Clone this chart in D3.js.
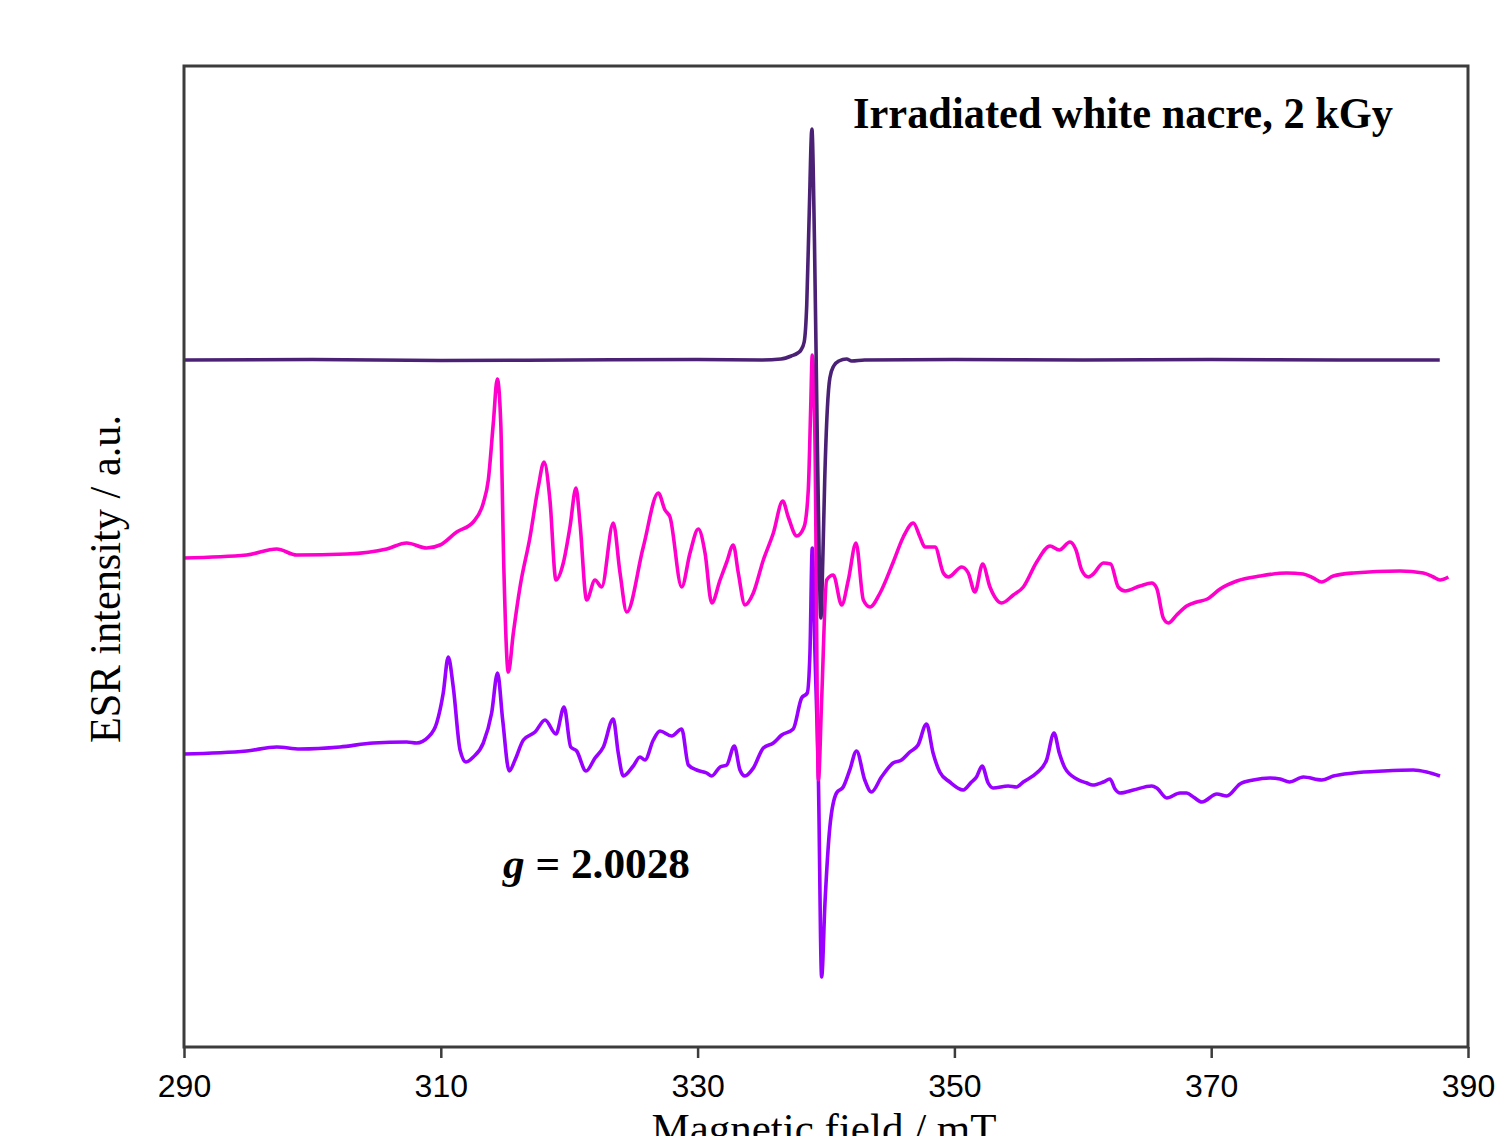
<!DOCTYPE html>
<html>
<head>
<meta charset="utf-8">
<script src="https://cdn.jsdelivr.net/npm/d3@7"></script>
<style>
  body { margin: 0; background: #fff; }
  svg { display: block; }
</style>
</head>
<body>
<svg id="chart" width="1503" height="1136"></svg>
<script>
// x ticks of the field axis (mT)
const X_TICKS = [290, 310, 330, 350, 370, 390];

// vertical offsets of the three stacked spectra (a.u.)
const OFFSET_TOP = 687;
const OFFSET_MID = 490;
const OFFSET_BOT = 294;

// top spectrum: [field mT, intensity a.u.]
const topSpectrum = [
  [290, 0], [300, 0.5], [310, -0.5], [320, 0], [330, 0.5], [335, 0],
  [336.5, 1], [337.3, 4], [337.8, 7], [338.05, 10], [338.3, 18], [338.5, 55],
  [338.7, 150], [338.9, 231], [339.1, 120], [339.3, -60], [339.5, -220],
  [339.6, -258], [339.75, -200], [339.9, -120], [340.1, -50], [340.3, -18],
  [340.6, -6], [341.0, -1], [341.6, 1], [342.0, -1], [343, 0], [350, 0.5],
  [360, 0], [370, 0.5], [380, 0], [387.8, 0]
];

// middle spectrum
const midSpectrum = [
  [290, -1], [294.88, 2], [297.22, 8], [298.78, 2], [302.67, 3], [305.79, 8],
  [307.34, 14], [308.9, 9], [309.94, 12], [311.24, 25], [312.53, 35],
  [313.31, 54], [313.7, 77], [314.09, 134], [314.4, 178], [314.67, 134],
  [314.92, -16], [315.26, -115], [315.65, -76], [316.17, -30], [316.95, 20],
  [317.59, 70], [318.04, 95], [318.5, 57], [318.97, -23], [319.54, -6],
  [320.06, 30], [320.53, 69], [320.84, 34], [321.36, -43], [322.01, -23],
  [322.53, -30], [323.43, 34], [323.96, -16], [324.48, -55], [325.77, 10],
  [326.94, 64], [327.46, 47], [327.85, 40], [328.76, -30], [329.41, 4],
  [330.06, 28], [330.58, 4], [331.1, -46], [331.75, -23], [332.27, -5],
  [332.78, 12], [333.17, -16], [333.69, -48], [334.34, -36], [335.12, -3],
  [335.9, 24], [336.63, 56], [337.06, 40], [337.72, 21], [338.29, 30],
  [338.62, 67], [338.81, 150], [338.93, 202], [339.14, 117], [339.41, -223],
  [339.66, -143], [340.05, -23], [340.57, -18], [341.22, -48], [341.74, -23],
  [342.34, 14], [342.91, -43], [343.43, -50], [344.21, -36], [345.24, -5],
  [346.02, 20], [346.8, 34], [347.32, 20], [347.71, 10], [348.49, 10],
  [349.14, -16], [349.53, -20], [350.57, -10], [351.08, -16], [351.6, -35],
  [352.2, -7], [352.77, -30], [353.68, -46], [354.59, -38], [355.37, -30],
  [356.41, -5], [357.45, 11], [358.17, 7], [359.0, 15], [359.47, 7],
  [359.91, -13], [360.43, -20], [360.82, -17], [361.6, -6], [362.17, -7],
  [362.76, -30], [363.29, -34], [364.45, -29], [365.36, -26], [365.75, -31],
  [366.27, -61], [366.66, -66], [367.31, -58], [368.09, -49], [368.87, -45],
  [369.7, -42], [370.69, -32], [371.99, -24], [373.8, -19], [375.88, -16],
  [377.17, -17], [377.95, -21], [378.6, -25], [379.51, -19], [381.07, -16],
  [384.7, -14], [386.52, -16], [387.3, -20], [387.82, -23], [388.47, -20]
];

// bottom spectrum
const botSpectrum = [
  [290, -1], [294.88, 2], [297.22, 6], [299.03, 4], [302.15, 6], [304.74, 10],
  [307.34, 11], [308.12, 10], [309.03, 16], [309.68, 30], [310.19, 60],
  [310.58, 96], [310.97, 66], [311.5, 3], [311.96, -9], [312.53, -4],
  [313.31, 10], [313.96, 40], [314.42, 80], [314.82, 33], [315.33, -18],
  [315.78, -7], [316.43, 13], [317.34, 21], [318.12, 33], [318.97, 19],
  [319.6, 46], [320.12, 6], [320.58, 2], [321.31, -18], [322.01, -5],
  [322.66, 6], [323.43, 34], [323.82, 0], [324.21, -23], [324.99, -13],
  [325.51, -4], [325.9, -7], [326.55, 13], [327.07, 22], [327.98, 17],
  [328.76, 24], [329.28, -12], [329.93, -17], [330.71, -20], [331.1, -23],
  [331.75, -14], [332.27, -12], [332.86, 7], [333.3, -17], [333.69, -23],
  [334.34, -15], [335.12, 5], [335.9, 10], [336.55, 18], [337.45, 24],
  [338.1, 55], [338.54, 60], [338.75, 100], [338.93, 205], [339.14, 100],
  [339.41, -27], [339.66, -224], [339.92, -150], [340.3, -74], [340.82, -40],
  [341.34, -34], [341.85, -17], [342.38, 2], [343.02, -27], [343.54, -39],
  [344.32, -24], [345.22, -10], [345.88, -7], [346.53, 1], [347.17, 8],
  [347.83, 29], [348.34, 0], [348.86, -19], [349.64, -29], [350.69, -37],
  [351.33, -29], [351.72, -24], [352.16, -13], [352.63, -30], [353.01, -35],
  [354.19, -33], [354.84, -34], [355.36, -29], [356.4, -20], [357.18, -7],
  [357.76, 20], [358.17, 0], [358.61, -15], [359.53, -26], [360.31, -30],
  [360.77, -32], [361.6, -29], [362.12, -26], [362.51, -36], [362.9, -40],
  [363.94, -37], [365.37, -33], [365.76, -35], [366.54, -45], [367.57, -40],
  [368.09, -40], [368.61, -44], [369.27, -49], [370.44, -41], [371.21, -43],
  [372.24, -31], [373.28, -27], [374.58, -25], [375.36, -26], [376.09, -29],
  [377.18, -24], [378.61, -27], [379.52, -23], [381.07, -20], [383.41, -18],
  [385.74, -17], [386.78, -19], [387.82, -23]
];

const svg = d3.select('#chart');

// plot box
const boxLeft = 184, boxRight = 1468, boxTop = 66, boxBottom = 1047;

const x = d3.scaleLinear().domain([290, 390]).range([boxLeft, boxRight]);
const y = d3.scaleLinear().domain([0, 981]).range([boxBottom, boxTop]);

// spectra, drawn bottom first so the dark one sits on top
const series = [
  { data: botSpectrum, offset: OFFSET_BOT, color: '#9900ff', width: 3.6 },
  { data: midSpectrum, offset: OFFSET_MID, color: '#ff00cc', width: 3.6 },
  { data: topSpectrum, offset: OFFSET_TOP, color: '#4b2175', width: 3.6 }
];

series.forEach(s => {
  const line = d3.line()
    .x(d => x(d[0]))
    .y(d => y(d[1] + s.offset))
    .curve(d3.curveMonotoneX);
  svg.append('path')
    .datum(s.data)
    .attr('d', line)
    .attr('fill', 'none')
    .attr('stroke', s.color)
    .attr('stroke-width', s.width)
    .attr('stroke-linejoin', 'round');
});

// frame
svg.append('rect')
  .attr('x', boxLeft).attr('y', boxTop)
  .attr('width', boxRight - boxLeft).attr('height', boxBottom - boxTop)
  .attr('fill', 'none')
  .attr('stroke', '#3c3c3c')
  .attr('stroke-width', 3);

// bottom axis with outward ticks
const xAxis = svg.append('g')
  .attr('transform', `translate(0,${boxBottom})`)
  .call(d3.axisBottom(x).tickValues(X_TICKS).tickSize(11).tickPadding(16).tickFormat(d3.format('d')));
xAxis.select('.domain').remove();
xAxis.selectAll('.tick line').attr('stroke', '#3c3c3c').attr('stroke-width', 2.5);
xAxis.selectAll('.tick text')
  .attr('fill', '#000')
  .style('font-family', '"Liberation Sans", Arial, sans-serif')
  .style('font-size', '32px');

// axis titles (the x title is clipped by the bottom edge, as in the original)
svg.append('text')
  .attr('x', 824).attr('y', 1143)
  .attr('text-anchor', 'middle')
  .style('font-family', '"Liberation Serif", "Times New Roman", serif')
  .style('font-size', '43px')
  .text('Magnetic field / mT');

svg.append('text')
  .attr('transform', 'translate(120,579) rotate(-90)')
  .attr('text-anchor', 'middle')
  .attr('textLength', 328)
  .attr('lengthAdjust', 'spacingAndGlyphs')
  .style('font-family', '"Liberation Serif", "Times New Roman", serif')
  .style('font-size', '44px')
  .text('ESR intensity / a.u.');

// annotations
svg.append('text')
  .attr('x', 853).attr('y', 128)
  .attr('textLength', 540)
  .attr('lengthAdjust', 'spacingAndGlyphs')
  .style('font-family', '"Liberation Serif", "Times New Roman", serif')
  .style('font-size', '44px')
  .style('font-weight', 'bold')
  .text('Irradiated white nacre, 2 kGy');

const gLabel = svg.append('text')
  .attr('x', 503).attr('y', 878)
  .attr('textLength', 187)
  .attr('lengthAdjust', 'spacingAndGlyphs')
  .style('font-family', '"Liberation Serif", "Times New Roman", serif')
  .style('font-size', '43px')
  .style('font-weight', 'bold');
gLabel.append('tspan').style('font-style', 'italic').text('g');
gLabel.append('tspan').text(' = 2.0028');
</script>
</body>
</html>
